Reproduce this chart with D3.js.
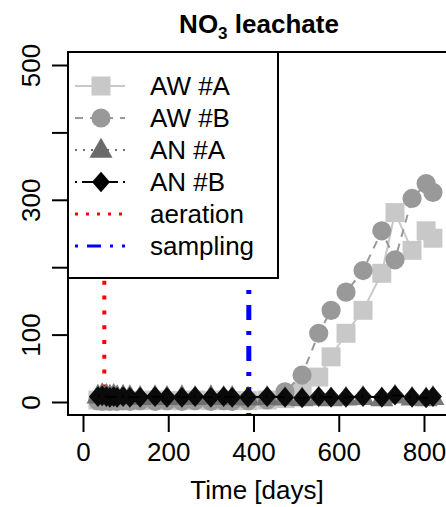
<!DOCTYPE html>
<html>
<head>
<meta charset="utf-8">
<script src="https://cdn.jsdelivr.net/npm/d3@7"></script>
<style>
  html, body { margin: 0; padding: 0; background: #fff; }
  svg { display: block; font-family: "Liberation Sans", Arial, Helvetica, sans-serif; }
</style>
</head>
<body>
<svg id="chart" width="446" height="507"></svg>
<script>
// ---- data ----
const days = [35, 45, 55, 63, 72, 80, 94, 110, 134, 169, 197, 232, 263, 300, 330, 350, 387, 432, 474, 514, 553, 582, 617, 657, 701, 732, 772, 805, 821];
const awA  = [3, 2, 3, 2, 3, 2, 3, 2, 2, 3, 2, 2, 3, 2, 3, 2, 2, 3, 5, 15, 37, 67, 102, 136, 191, 281, 225, 254, 243];
const awB  = [2, 1, 2, 1, 2, 1, 2, 1, 2, 1, 2, 1, 2, 1, 2, 1, 2, 3, 15, 40, 102, 136, 163, 195, 254, 211, 302, 324, 311];
const anA  = [9, 11, 10, 9, 10, 8, 9, 8, 7, 8, 7, 8, 7, 8, 7, 7, 6, 7, 6, 5, 6, 5, 6, 7, 5, 9, 6, 5, 7];
const anB  = [8, 9, 8, 7, 8, 7, 8, 7, 7, 8, 7, 7, 8, 7, 8, 7, 7, 8, 7, 6, 8, 7, 7, 8, 7, 10, 7, 6, 8];
const aerationDay = 50;
const samplingDay = 389;
const xTicks = [0, 200, 400, 600, 800];
const yTicks = [0, 100, 200, 300, 400, 500];
const yLabelled = [0, 100, 300, 500];
const seriesNames = ["AW #A", "AW #B", "AN #A", "AN #B"];
const eventNames = ["aeration", "sampling"];

// ---- styles ----
const styles = [
  { color: "#c8c8c8", dash: null, sym: d3.symbolSquare, size: 360 },
  { color: "#999999", dash: "8 7", sym: d3.symbolCircle, size: 290 },
  { color: "#6a6a6a", dash: "2 6", sym: d3.symbolTriangle, size: 230 },
  { color: "#000000", dash: "2 5 12 5", sym: "diamond", size: 9 }
];
const eventStyles = [
  { color: "#ff0000", dash: "4 10.8", offset: 8, width: 4 },
  { color: "#0000ff", dash: "4 11 15 11", offset: 8, width: 5 }
];

const svg = d3.select("#chart");
const plot = { left: 68, top: 52, right: 470, bottom: 415 };

const x = d3.scaleLinear().domain([0, 800]).range([83, 424]);
const y = d3.scaleLinear().domain([0, 500]).range([402, 65]);

svg.append("defs").append("clipPath").attr("id", "clip")
  .append("rect").attr("x", plot.left).attr("y", plot.top)
  .attr("width", plot.right - plot.left).attr("height", plot.bottom - plot.top);

const g = svg.append("g").attr("clip-path", "url(#clip)");

function drawSymbol(sel, st, cx, cy) {
  if (st.sym === "diamond") {
    const w = st.size, h = st.size * 1.15;
    sel.append("path")
      .attr("d", `M${cx},${cy - h}L${cx + w},${cy}L${cx},${cy + h}L${cx - w},${cy}Z`)
      .attr("fill", st.color);
  } else {
    sel.append("path")
      .attr("d", d3.symbol().type(st.sym).size(st.size)())
      .attr("transform", `translate(${cx},${cy + (st.sym === d3.symbolTriangle ? 1 : 0)})`)
      .attr("fill", st.color);
  }
}

// vertical event lines
[aerationDay, samplingDay].forEach((d, i) => {
  g.append("line")
    .attr("x1", x(d)).attr("x2", x(d))
    .attr("y1", plot.top).attr("y2", plot.bottom)
    .attr("stroke", eventStyles[i].color)
    .attr("stroke-width", eventStyles[i].width)
    .attr("stroke-dasharray", eventStyles[i].dash)
    .attr("stroke-dashoffset", eventStyles[i].offset);
});

const allSeries = [awA, awB, anA, anB];
allSeries.forEach((vals, i) => {
  const st = styles[i];
  const line = d3.line().x((v, k) => x(days[k])).y(v => y(v));
  g.append("path").datum(vals)
    .attr("d", line)
    .attr("fill", "none")
    .attr("stroke", st.color)
    .attr("stroke-width", 2)
    .attr("stroke-dasharray", st.dash);
  const mg = g.append("g").attr("opacity", i >= 2 ? 0.9 : 1);
  vals.forEach((v, k) => drawSymbol(mg, st, x(days[k]), y(v)));
});

// box
svg.append("rect")
  .attr("x", plot.left).attr("y", plot.top)
  .attr("width", plot.right - plot.left).attr("height", plot.bottom - plot.top)
  .attr("fill", "none").attr("stroke", "#000").attr("stroke-width", 2);

// x axis
const xAxis = d3.axisBottom(x).tickValues(xTicks).tickSize(17).tickPadding(11).tickFormat(d3.format("d"));
const xg = svg.append("g").attr("transform", `translate(0,${plot.bottom})`).call(xAxis);
xg.select(".domain").remove();
xg.selectAll("line").attr("stroke", "#000").attr("stroke-width", 2);
xg.selectAll("text").attr("font-size", 26).attr("fill", "#000")
  .attr("font-family", "Liberation Sans, Arial, sans-serif");

// y axis
const yAxis = d3.axisLeft(y).tickValues(yTicks).tickSize(16)
  .tickFormat(d => yLabelled.includes(d) ? String(d) : "");
const yg = svg.append("g").attr("transform", `translate(${plot.left},0)`).call(yAxis);
yg.select(".domain").remove();
yg.selectAll("line").attr("stroke", "#000").attr("stroke-width", 2);
yg.selectAll("text")
  .attr("font-size", 26).attr("fill", "#000")
  .attr("font-family", "Liberation Sans, Arial, sans-serif")
  .attr("text-anchor", "middle")
  .attr("dy", null)
  .attr("x", null)
  .attr("transform", function() {
    return `translate(-28,0) rotate(-90)`;
  })
  .attr("y", 0);

// title
const title = svg.append("text")
  .attr("x", 259).attr("y", 33)
  .attr("text-anchor", "middle")
  .attr("font-size", 26).attr("font-weight", "bold").attr("fill", "#000");
title.append("tspan").text("NO");
title.append("tspan").text("3").attr("font-size", 17).attr("dy", 6);
title.append("tspan").text(" leachate").attr("dy", -6);

// x axis title
svg.append("text")
  .attr("x", 257).attr("y", 499)
  .attr("text-anchor", "middle")
  .attr("font-size", 26).attr("fill", "#000")
  .text("Time [days]");

// legend
const lg = svg.append("g");
lg.append("rect")
  .attr("x", 68).attr("y", 52).attr("width", 210).attr("height", 226)
  .attr("fill", "#fff").attr("stroke", "#000").attr("stroke-width", 2);
const rowY = k => 86 + k * 32;
seriesNames.forEach((name, i) => {
  const st = styles[i];
  const cy = rowY(i);
  lg.append("line").attr("x1", 75).attr("x2", 125).attr("y1", cy).attr("y2", cy)
    .attr("stroke", st.color).attr("stroke-width", 2).attr("stroke-dasharray", st.dash);
  drawSymbol(lg, st, 101, cy);
  lg.append("text").attr("x", 150).attr("y", cy + 9)
    .attr("font-size", 26).attr("fill", "#000").text(name);
});
eventNames.forEach((name, j) => {
  const es = eventStyles[j];
  const cy = rowY(4 + j);
  lg.append("line").attr("x1", 75).attr("x2", 125).attr("y1", cy).attr("y2", cy)
    .attr("stroke", es.color).attr("stroke-width", j === 0 ? 3 : 3).attr("stroke-dasharray", j === 0 ? "3 8" : "3 9 14 9");
  lg.append("text").attr("x", 150).attr("y", cy + 9)
    .attr("font-size", 26).attr("fill", "#000").text(name);
});
</script>
</body>
</html>
